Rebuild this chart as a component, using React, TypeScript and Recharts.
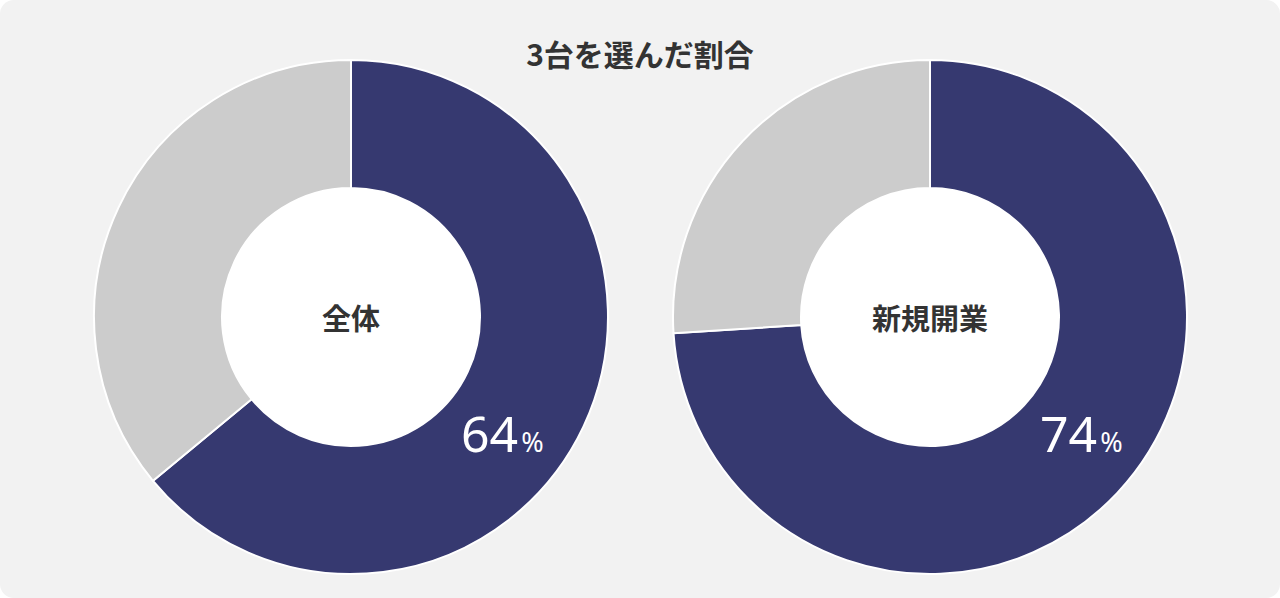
import React from "react";
import { PieChart, Pie, Cell } from "recharts";

const title = "3台を選んだ割合";
const chartNames = ["全体", "新規開業"];
const selectedShares = [64, 74];
const sliceColors = ["#363970", "#cccccc"];
const holeData = [{ name: "hole", value: 100 }];

const buildData = (v: number) => [
  { name: "3台", value: v },
  { name: "その他", value: 100 - v },
];

const W = 1280;
const H = 598;

const makeLabel = (value: number, name: string) => (props: any) => {
  const { cx, cy, index } = props;
  if (index !== 0) return null;
  return (
    <g>
      <text
        x={cx + 110}
        y={cy + 135}
        fill="#ffffff"
        textAnchor="start"
        fontFamily="'Noto Sans', 'Open Sans', sans-serif"
      >
        <tspan fontSize={50}>{value}</tspan>
        <tspan fontSize={27} dx={3}>%</tspan>
      </text>
      <text
        x={cx}
        y={cy}
        dy={13}
        fill="#333333"
        textAnchor="middle"
        fontSize={29}
        fontWeight={700}
        fontFamily="'Noto Sans CJK JP', sans-serif"
      >
        {name}
      </text>
    </g>
  );
};

export default function App() {
  const centers = [351, 930];
  return (
    <div
      style={{
        position: "absolute",
        left: 0,
        top: 0,
        width: W,
        height: H,
        background: "#ffffff",
      }}
    >
      <div
        style={{
          position: "absolute",
          left: 0,
          top: 0,
          width: W,
          height: H,
          background: "#f2f2f2",
          borderRadius: 14,
        }}
      />
      <div
        style={{
          position: "absolute",
          left: 0,
          top: 33,
          width: W,
          textAlign: "center",
          fontFamily: "'Noto Sans CJK JP', sans-serif",
          fontWeight: 700,
          fontSize: 30,
          lineHeight: "40px",
          color: "#333333",
        }}
      >
        {title}
      </div>
      <div style={{ position: "absolute", left: 0, top: 0 }}>
        <PieChart width={W} height={H} margin={{ top: 0, right: 0, bottom: 0, left: 0 }}>
          {centers.map((c, i) => (
            <Pie
              key={"hole" + i}
              data={holeData}
              dataKey="value"
              cx={c}
              cy={317}
              innerRadius={0}
              outerRadius={129}
              fill="#ffffff"
              stroke="none"
              isAnimationActive={false}
            />
          ))}
          {selectedShares.map((v, i) => (
            <Pie
              key={chartNames[i]}
              data={buildData(v)}
              dataKey="value"
              nameKey="name"
              cx={centers[i]}
              cy={317}
              innerRadius={129}
              outerRadius={257}
              startAngle={90}
              endAngle={-270}
              stroke="#ffffff"
              strokeWidth={2}
              isAnimationActive={false}
              labelLine={false}
              label={makeLabel(v, chartNames[i])}
            >
              {buildData(v).map((d, j) => (
                <Cell key={d.name} fill={sliceColors[j]} />
              ))}
            </Pie>
          ))}
        </PieChart>
      </div>
    </div>
  );
}
